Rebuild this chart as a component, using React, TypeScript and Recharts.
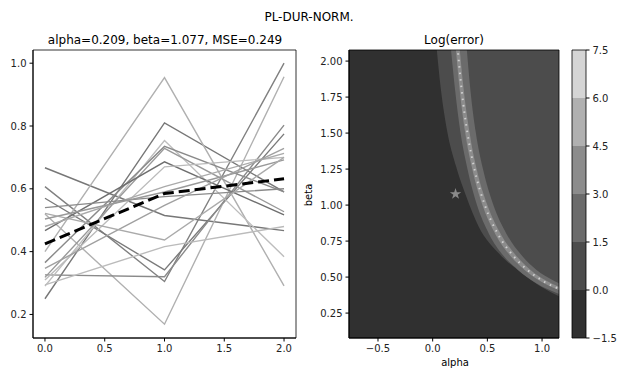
import React from 'react'
import {
  ComposedChart, LineChart, Line, Area, Scatter, XAxis, YAxis, ZAxis, CartesianGrid, ReferenceArea,
} from 'recharts'

const xs = [0, 1, 2]
const seriesValues = [
  [0.667, 0.515, 0.467],
  [0.25, 0.81, 0.59],
  [0.607, 0.305, 1.0],
  [0.57, 0.342, 0.775],
  [0.52, 0.169, 0.957],
  [0.4, 0.954, 0.291],
  [0.326, 0.32, 0.803],
  [0.29, 0.754, 0.384],
  [0.365, 0.735, 0.59],
  [0.318, 0.729, 0.527],
  [0.467, 0.686, 0.517],
  [0.31, 0.67, 0.7],
  [0.48, 0.607, 0.713],
  [0.54, 0.575, 0.6],
  [0.504, 0.59, 0.692],
  [0.347, 0.547, 0.729],
  [0.522, 0.437, 0.7],
  [0.294, 0.416, 0.48],
]
const fitValues = [0.425, 0.585, 0.632]
const leftXTicks = [0, 0.5, 1, 1.5, 2]
const leftYTicks = [0.2, 0.4, 0.6, 0.8, 1.0]

// contour edges, [alpha, beta]
const edgeOuterLeft = [[0.035, 2.1], [0.076, 1.797], [0.131, 1.52], [0.215, 1.266], [0.308, 1.058], [0.421, 0.85], [0.604, 0.665], [0.817, 0.527], [1.015, 0.422], [1.2, 0.35]]
const edgeInnerLeft = [[0.165, 2.1], [0.205, 1.8], [0.255, 1.5], [0.318, 1.25], [0.405, 1.0], [0.515, 0.8], [0.645, 0.65], [0.78, 0.55], [0.94, 0.46], [1.2, 0.37]]
const edgeCoreLeft = [[0.21, 2.1], [0.247, 1.8], [0.298, 1.5], [0.362, 1.25], [0.455, 1.0], [0.572, 0.8], [0.708, 0.65], [0.84, 0.55], [0.99, 0.47], [1.2, 0.397]]
const ridge = [[0.227, 2.1], [0.265, 1.8], [0.318, 1.5], [0.382, 1.25], [0.477, 1.0], [0.596, 0.8], [0.734, 0.65], [0.867, 0.55], [1.015, 0.47], [1.2, 0.405]]
const edgeCoreRight = [[0.245, 2.1], [0.284, 1.8], [0.338, 1.5], [0.402, 1.25], [0.5, 1.0], [0.622, 0.8], [0.762, 0.65], [0.895, 0.55], [1.04, 0.475], [1.2, 0.418]]
const edgeInnerRight = [[0.31, 2.1], [0.345, 1.8], [0.395, 1.5], [0.46, 1.25], [0.555, 1.0], [0.675, 0.8], [0.815, 0.65], [0.95, 0.55], [1.095, 0.48], [1.2, 0.44]]
const best = { alpha: 0.209, beta: 1.077 }
const alphaTicks = [-0.5, 0, 0.5, 1.0]
const betaTicks = [0.25, 0.5, 0.75, 1.0, 1.25, 1.5, 1.75, 2.0]
const levels = [-1.5, 0, 1.5, 3, 4.5, 6, 7.5]

const lineGrays = ['#777', '#777', '#808080', '#7a7a7a', '#b0b0b0', '#b0b0b0', '#8a8a8a', '#bdbdbd', '#8a8a8a', '#999', '#6e6e6e', '#bbb', '#aaa', '#8a8a8a', '#999', '#a0a0a0', '#aaa', '#bbb']
const levelGrays = ['#303030', '#4c4c4c', '#6b6b6b', '#8c8c8c', '#b0b0b0', '#d5d5d5']

const font = '"DejaVu Sans", sans-serif'
const tick = { fontSize: 10, fill: '#222', fontFamily: font }
const minus = (s: string) => s.replace('-', '\u2212')

const lineRows = xs.map((x, i) => {
  const row: Record<string, number> = { x, fit: fitValues[i] }
  seriesValues.forEach((s, k) => { row['s' + k] = s[i] })
  return row
})
const toPts = (arr: number[][]) => arr.map(([a, b]) => ({ a, b }))

const alphaDomain = [-0.765, 1.155]
const betaDomain = [0.077, 2.077]

function Label({ x, y, size = 10, children, rotate }: { x: number; y: number; size?: number; children: React.ReactNode; rotate?: boolean }) {
  return (
    <div style={{
      position: 'absolute', left: x, top: y, transform: `translate(-50%, -50%)${rotate ? ' rotate(-90deg)' : ''}`,
      fontFamily: font, fontSize: size, color: '#000', whiteSpace: 'nowrap', lineHeight: 1,
    }}>{children}</div>
  )
}

function LeftPanel() {
  return (
    <LineChart width={310} height={370} data={lineRows} margin={{ top: 50, right: 14, left: 0, bottom: 2 }}>
      <XAxis dataKey="x" type="number" domain={[-0.1, 2.1]} ticks={leftXTicks} allowDataOverflow
        tickFormatter={v => v.toFixed(1)} tick={tick} tickSize={3.5} tickMargin={3} height={30}
        stroke="#000" interval={0} />
      <YAxis type="number" domain={[0.125, 1.042]} ticks={leftYTicks} allowDataOverflow
        tickFormatter={v => v.toFixed(1)} tick={tick} tickSize={3.5} tickMargin={3} width={33}
        stroke="#000" interval={0} />
      {seriesValues.map((_, k) => (
        <Line key={k} dataKey={'s' + k} stroke={lineGrays[k]} strokeWidth={1.4} dot={false} isAnimationActive={false} />
      ))}
      <Line dataKey="fit" stroke="#000" strokeWidth={3} strokeDasharray="11 5" dot={false} isAnimationActive={false} />
      <ReferenceArea x1={-0.1} x2={2.1} y1={0.125} y2={1.042} fill="none" stroke="#000" strokeWidth={0.8} ifOverflow="visible" />
    </LineChart>
  )
}

function ContourPanel() {
  const bands: [number[][], string][] = [
    [edgeOuterLeft, levelGrays[1]],
    [edgeInnerLeft, levelGrays[2]],
    [edgeCoreLeft, levelGrays[3]],
    [edgeCoreRight, levelGrays[2]],
    [edgeInnerRight, levelGrays[1]],
  ]
  return (
    <ComposedChart width={260} height={370} margin={{ top: 50, right: 11, left: 0, bottom: 2 }}>
      <CartesianGrid fill={levelGrays[0]} horizontal={false} vertical={false} />
      <XAxis dataKey="a" type="number" domain={alphaDomain} ticks={alphaTicks} allowDataOverflow
        tickFormatter={v => minus(v.toFixed(1))} tick={tick} tickSize={3.5} tickMargin={3} height={30}
        stroke="#000" interval={0} />
      <YAxis dataKey="b" type="number" domain={betaDomain} ticks={betaTicks} allowDataOverflow
        tickFormatter={v => v.toFixed(2)} tick={tick} tickSize={3.5} tickMargin={3} width={39}
        stroke="#000" interval={0} />
      <ZAxis range={[40, 40]} />
      {bands.map(([edge, color], k) => (
        <Area key={k} data={toPts(edge)} dataKey="b" type="monotone" baseValue={betaDomain[1]}
          fill={color} fillOpacity={1} stroke="none" isAnimationActive={false} />
      ))}
      <Line data={toPts(ridge)} dataKey="b" type="monotone" stroke="#d0d0d0" strokeWidth={2}
        strokeDasharray="1.5 5" dot={false} isAnimationActive={false} />
      <Scatter data={[{ a: best.alpha, b: best.beta }]} shape="star" fill="#8a8a8a" isAnimationActive={false} />
      <ReferenceArea x1={alphaDomain[0]} x2={alphaDomain[1]} y1={betaDomain[0]} y2={betaDomain[1]}
        fill="none" stroke="#000" strokeWidth={0.8} ifOverflow="visible" />
    </ComposedChart>
  )
}

function ColorBar() {
  const lo = levels[0]
  const hi = levels[levels.length - 1]
  return (
    <ComposedChart width={60} height={370} margin={{ top: 50, right: 0, left: 12, bottom: 32 }}>
      <XAxis dataKey="x" type="number" domain={[0, 1]} hide allowDataOverflow />
      <YAxis dataKey="v" type="number" orientation="right" domain={[lo, hi]} ticks={levels} allowDataOverflow
        tickFormatter={v => minus(v.toFixed(1))} tick={tick} tickSize={3.5} tickMargin={3} width={34}
        stroke="#000" axisLine={false} interval={0} />
      {levelGrays.map((c, i) => (
        <Area key={i} data={[{ x: 0, v: levels[i + 1] }, { x: 1, v: levels[i + 1] }]} dataKey="v" type="linear"
          baseValue={levels[i]} fill={c} fillOpacity={1} stroke="none" isAnimationActive={false} />
      ))}
      <ReferenceArea x1={0} x2={1} y1={lo} y2={hi} fill="none" stroke="#000" strokeWidth={0.8} ifOverflow="visible" />
    </ComposedChart>
  )
}

export default function App() {
  return (
    <div style={{ position: 'absolute', left: 0, top: 0, width: 619, height: 370, background: '#fff', overflow: 'hidden' }}>
      <Label x={309} y={17} size={12}>PL-DUR-NORM.</Label>
      <Label x={165} y={40} size={12}>alpha=0.209, beta=1.077, MSE=0.249</Label>
      <Label x={454} y={40} size={12}>Log(error)</Label>
      <div style={{ position: 'absolute', left: 0, top: 0 }}><LeftPanel /></div>
      <div style={{ position: 'absolute', left: 310, top: 0 }}><ContourPanel /></div>
      <div style={{ position: 'absolute', left: 560, top: 0 }}><ColorBar /></div>
      <Label x={309} y={195} rotate>beta</Label>
      <Label x={455} y={363}>alpha</Label>
    </div>
  )
}
